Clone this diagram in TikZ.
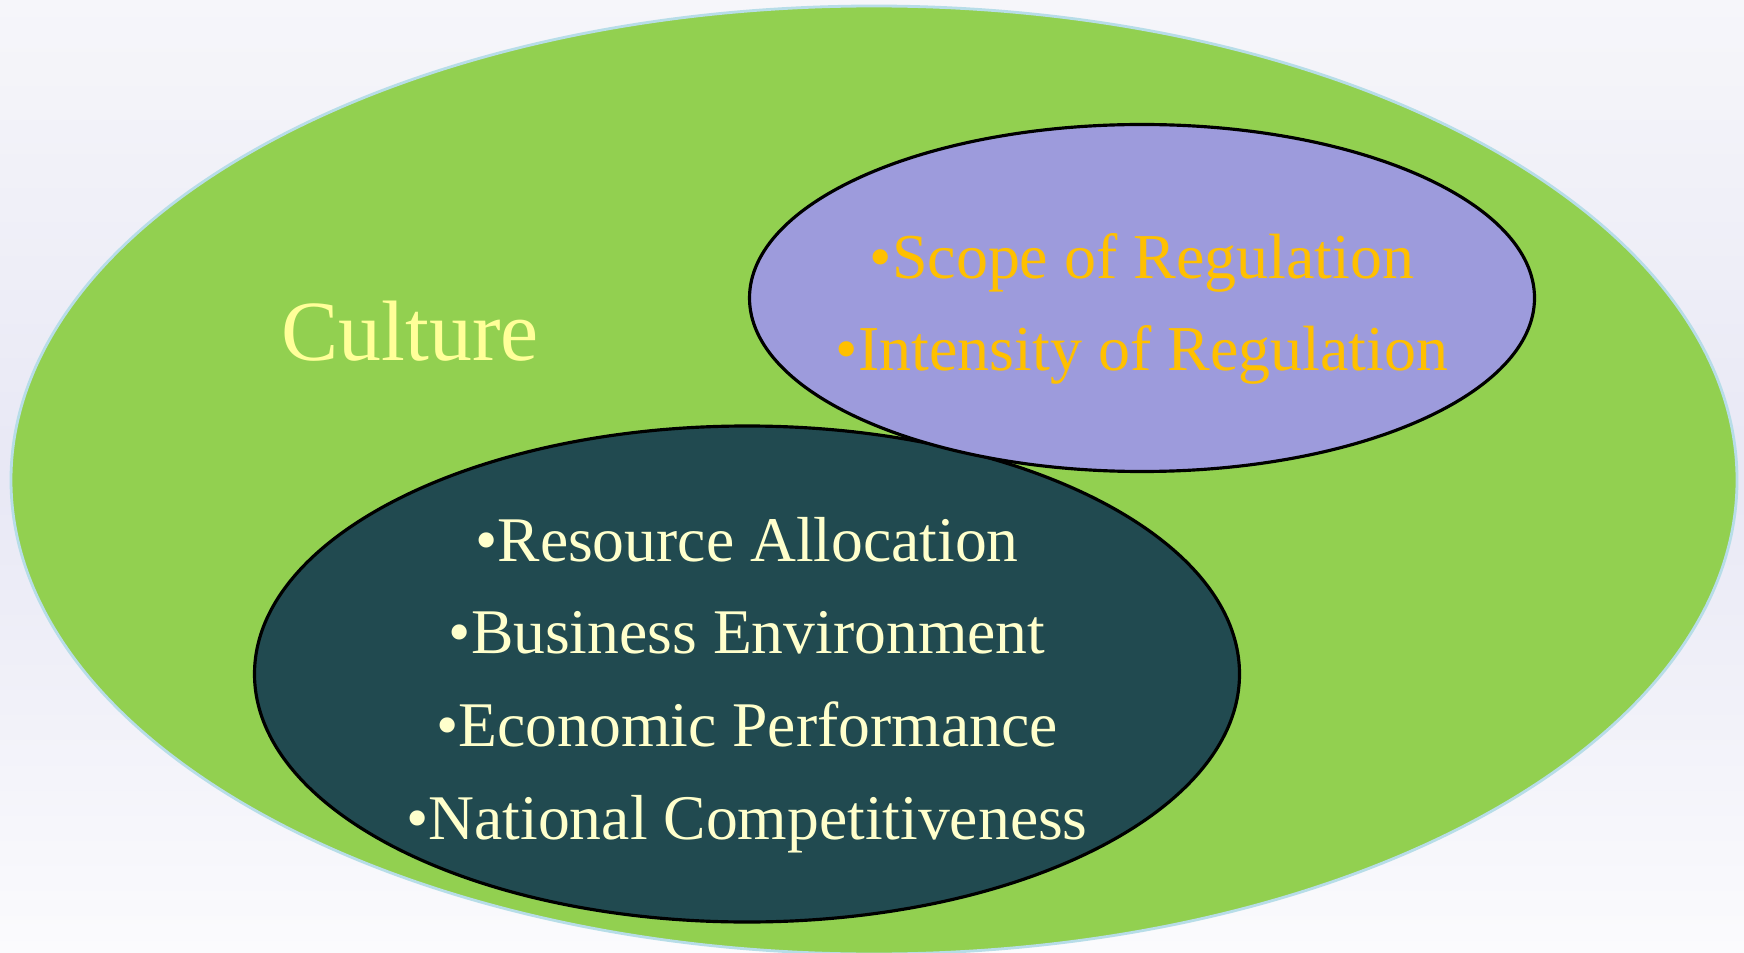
\documentclass[tikz,border=0pt]{standalone}
\usepackage{fontspec}
\setmainfont{Liberation Serif}
\usetikzlibrary{shapes.geometric}

\definecolor{bgtop}{HTML}{F6F6FA}
\definecolor{bgmid}{HTML}{E8E8F5}
\definecolor{bgbot}{HTML}{FBFBFD}
\definecolor{culturegreen}{HTML}{92D050}
\definecolor{cultureedge}{HTML}{B7DDE8}
\definecolor{regpurple}{HTML}{9D9BDC}
\definecolor{econteal}{HTML}{214A50}
\definecolor{goldtext}{HTML}{FFC000}
\definecolor{creamtext}{HTML}{FFFFCC}
\definecolor{yellowtext}{HTML}{FFFF99}

\begin{document}
\begin{tikzpicture}[
  outer/.style={ellipse, draw=cultureedge, line width=0.8pt, fill=culturegreen, inner sep=0pt},
  inner/.style={ellipse, draw=black, line width=0.9pt, inner sep=0pt},
  bigtext/.style={font=\fontsize{24.4}{30}\selectfont, text=yellowtext},
  regtext/.style={font=\fontsize{18.2}{26.2}\selectfont, text=goldtext, align=center},
  econtext/.style={font=\fontsize{18.1}{26.4}\selectfont, text=creamtext, align=center}
]

% Background
\shade[top color=bgtop, bottom color=bgbot, middle color=bgmid] (0,0) rectangle (17.44,-9.53);
\useasboundingbox (0,0) rectangle (17.44,-9.53);

% Culture (outer)
\node[outer, minimum width=17.26cm, minimum height=9.48cm] (culture) at (8.74,-4.80) {};
\node[bigtext] (culturelbl) at (4.10,-3.31) {Culture};

% Economy
\node[inner, fill=econteal, minimum width=9.85cm, minimum height=4.96cm] (econ) at (7.47,-6.74) {};
\node[econtext] (econlist) at ([yshift=-0.11cm]econ.center)
  {\textbullet Resource Allocation\\\textbullet Business Environment\\\textbullet Economic Performance\\\textbullet National Competitiveness};

% Regulation
\node[inner, fill=regpurple, minimum width=7.85cm, minimum height=3.47cm] (reg) at (11.42,-2.98) {};
\node[regtext] (reglist) at ([yshift=-0.11cm]reg.center)
  {\textbullet Scope of Regulation\\\textbullet Intensity of Regulation};

\end{tikzpicture}
\end{document}
